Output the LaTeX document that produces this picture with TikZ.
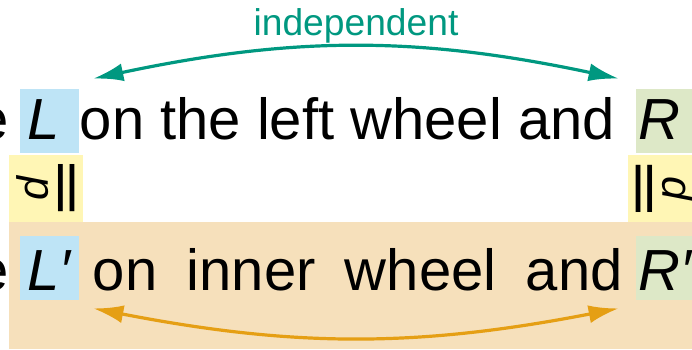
\documentclass[tikz,border=0pt]{standalone}
\usepackage{graphicx}
\usepackage[no-math]{fontspec}
\setmainfont{Liberation Sans}
\newfontfamily\eqfont{DejaVu Sans}
\usetikzlibrary{positioning,arrows.meta}
\definecolor{wheelL}{RGB}{190,228,246}
\definecolor{wheelR}{RGB}{221,232,199}
\definecolor{eqfill}{RGB}{255,246,181}
\definecolor{innerbg}{RGB}{246,224,187}
\definecolor{indep}{RGB}{0,152,128}
\definecolor{innerarr}{RGB}{229,159,20}
\newcommand{\eqp}{\scalebox{1.3}[1]{\eqfont =}\\[-1.2pt]{\fontsize{21.5}{0}\selectfont\textit{p}}}

\begin{document}
\begin{tikzpicture}[
    x=0.5pt, y=0.5pt,
    big/.style={font=\fontsize{29}{34}\selectfont, inner sep=0pt},
    wheel/.style={big, minimum width=29.5pt, minimum height=32pt,
                  text height=25pt, text depth=7pt},
    lwheel/.style={wheel, fill=wheelL},
    rwheel/.style={wheel, fill=wheelR},
    low/.style={text height=27pt, text depth=5pt},
    eqbox/.style={font=\fontsize{29}{0}\selectfont, inner sep=0pt, align=center,
                  fill=eqfill, minimum width=33.5pt, minimum height=37pt},
    ar/.style={{Latex[length=15pt,width=9pt]}-{Latex[length=15pt,width=9pt]}, line width=1.6pt},
    lbl/.style={font=\fontsize{18.6}{22}\selectfont, text=indep, above, inner sep=1pt},
]
\useasboundingbox (0,0) rectangle (692,349);
\clip (0,0) rectangle (692,349);

% Inner wheel band (bottom).
\fill[innerbg] (9,0) rectangle (692,127);

% Top line: left and right wheel.
\node[lwheel, anchor=base]                              (L)     at (49.5,210) {\textit{L}\phantom{\textit{′}}};
\node[big, left=5pt of L.base west, anchor=base east]   (pre)   {e};
\node[big, right=0pt of L.base east, anchor=base west]  (top)   {on the left wheel and};
\node[rwheel, anchor=base]                              (R)     at (665.5,210) {\textit{R}\phantom{\textit{′}}};

% Bottom line: inner wheel.
\node[lwheel, low, anchor=base]                         (Lp)    at (49.5,59) {\textit{L′}};
\node[big, left=5pt of Lp.base west, anchor=base east]  (prep)  {e};
\node[big, right=6.5pt of Lp.base east, anchor=base west] (bot) {\makebox[265pt][s]{on inner wheel and}};
\node[rwheel, low, anchor=base]                         (Rp)    at (665.5,59) {\textit{R′}};

% Equal in distribution.
\node[eqbox, rotate=-90] (eqL) at (46,160.5)  {\eqp};
\node[eqbox, rotate=90]  (eqR) at (665,160.5) {\eqp};

% Arrows.
\coordinate[above right=5pt and 7pt of L.north east]  (lt);
\coordinate[above left=5pt and 8.5pt of R.north west] (rt);
\draw[ar, indep] (lt) to[bend left=12] node[lbl]{independent} (rt);
\coordinate[below right=4pt and 7pt of Lp.south east]  (lb);
\coordinate[below left=4pt and 8.5pt of Rp.south west] (rb);
\draw[ar, innerarr] (lb) to[bend right=11] (rb);
\end{tikzpicture}
\end{document}
